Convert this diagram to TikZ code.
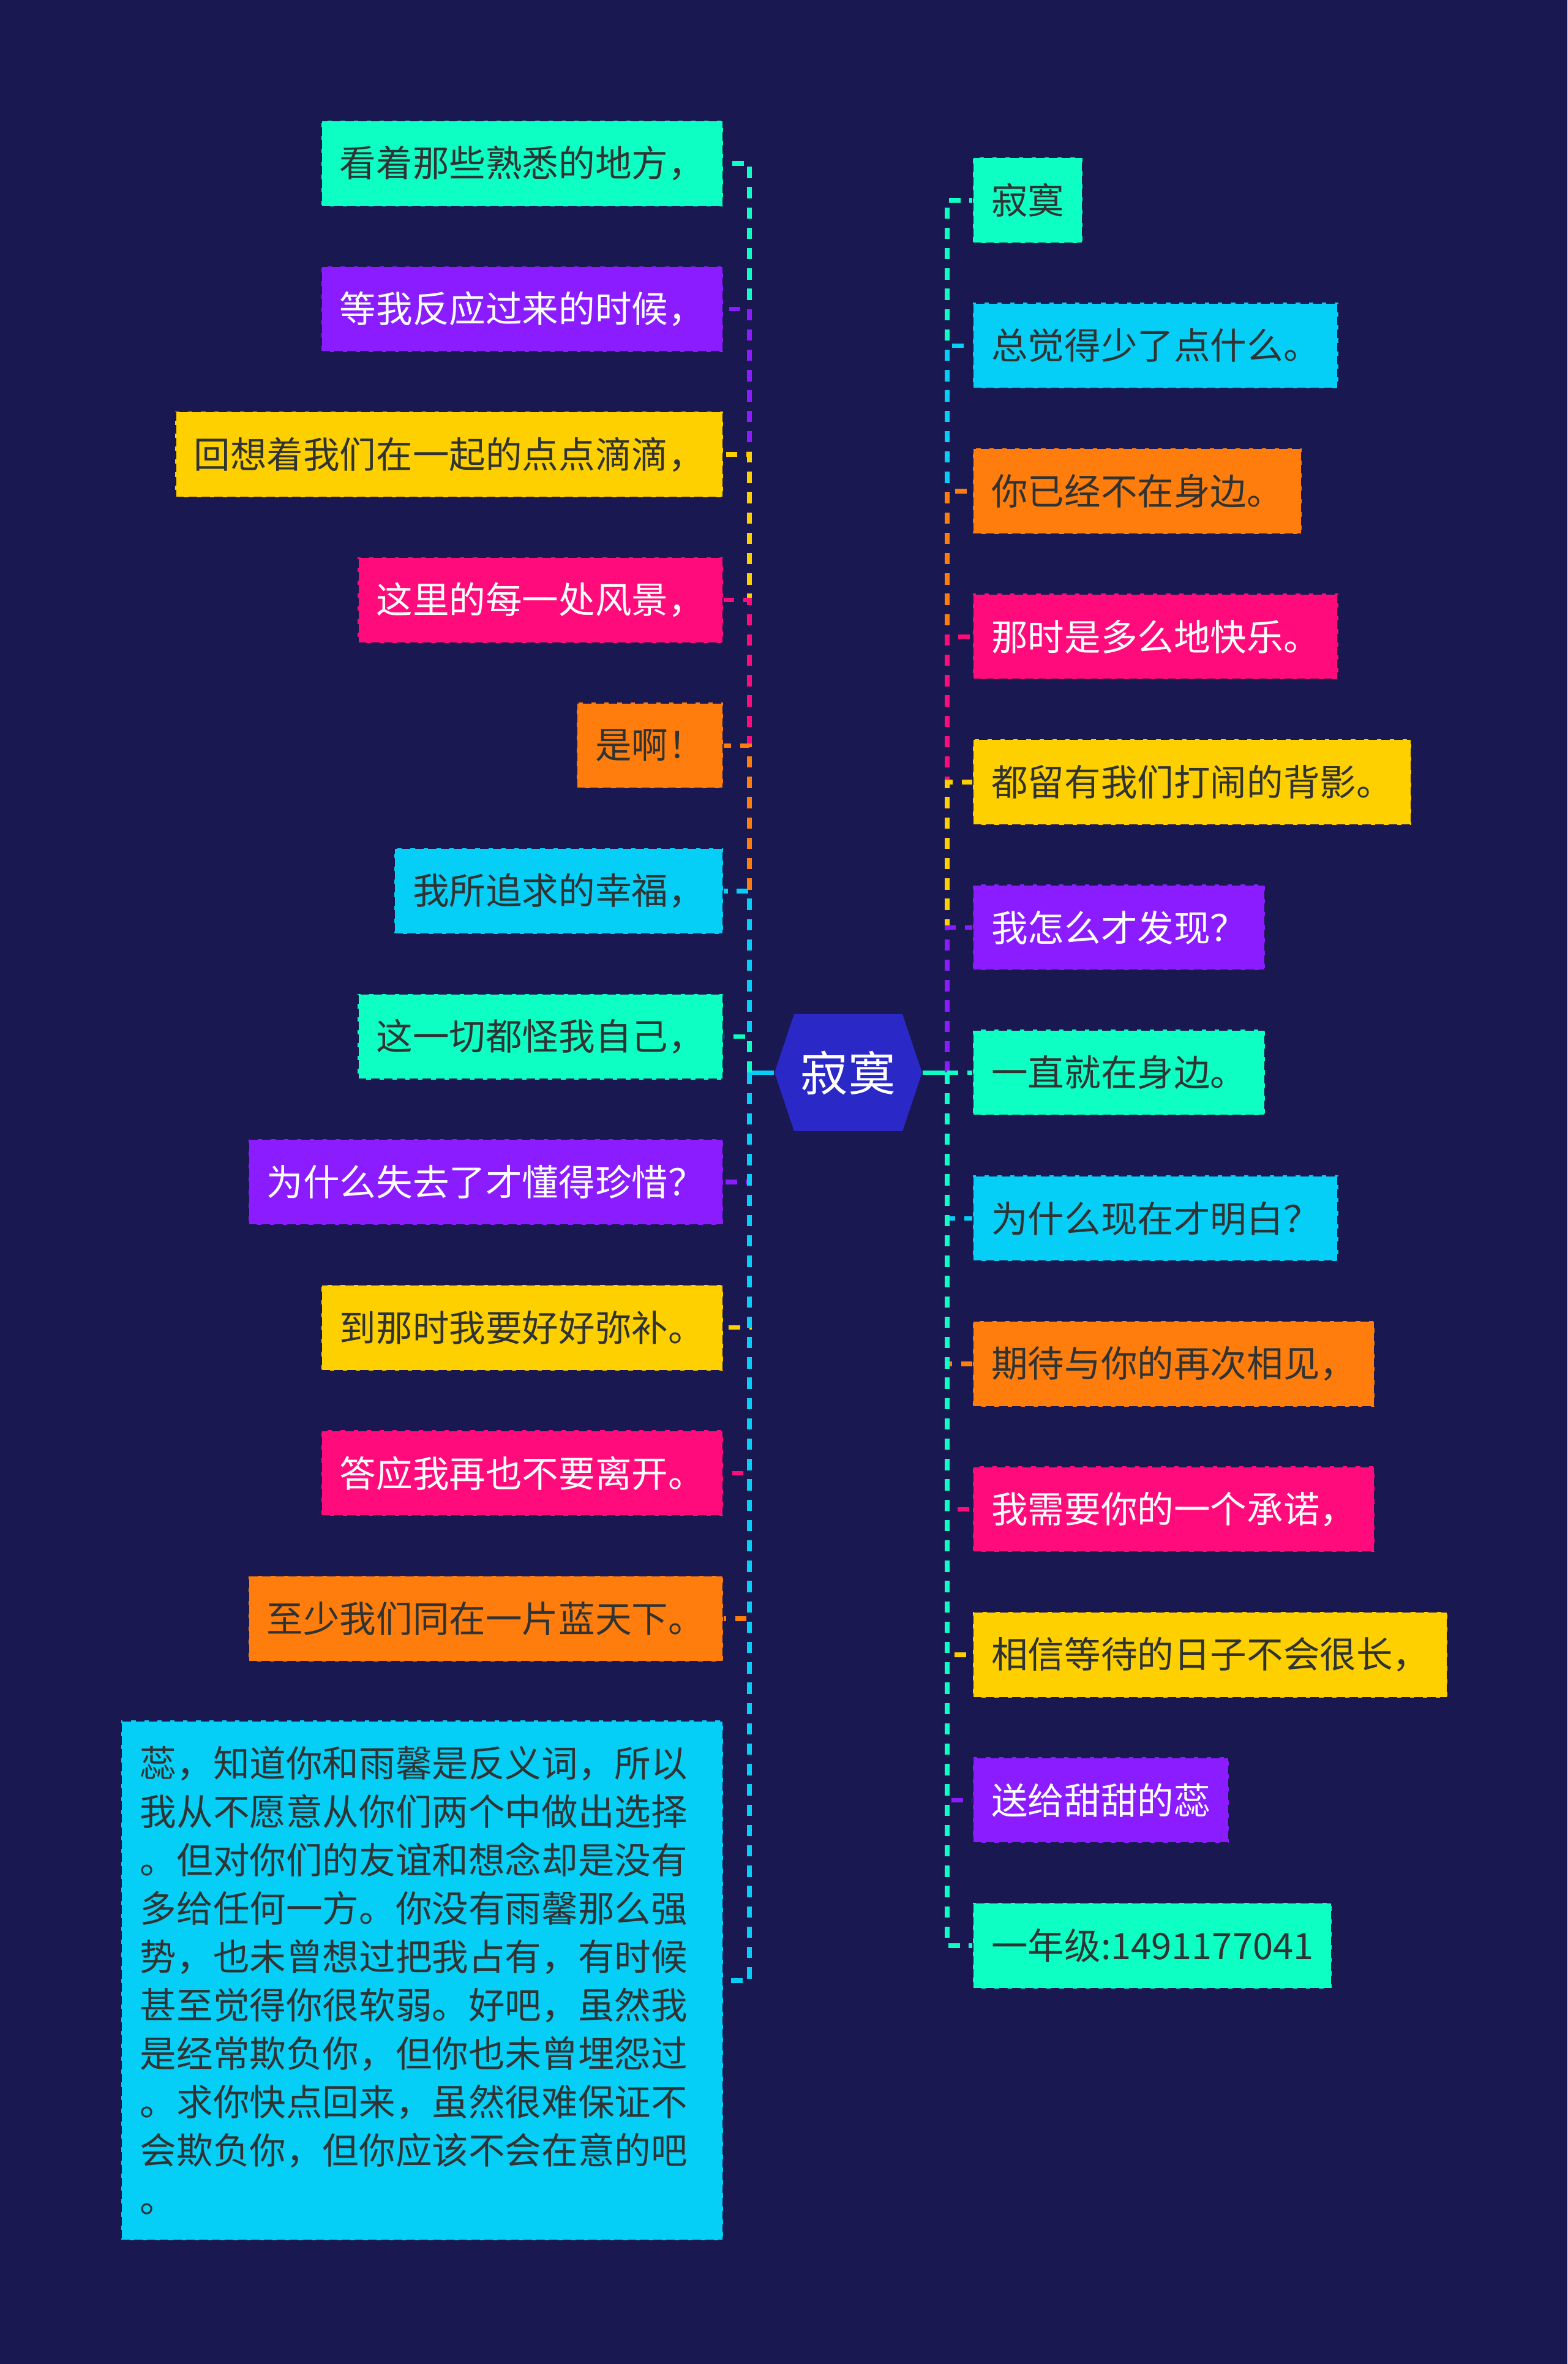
\documentclass[tikz,border=0pt]{standalone}
\usepackage{fontspec}
\usepackage{tikz}
\usetikzlibrary{positioning,calc}
\newfontfamily\cjk{Noto Sans CJK SC}
\definecolor{bg}{HTML}{1A1850}
\definecolor{hx}{HTML}{2A28C6}
\definecolor{tq}{HTML}{0DFFC4}
\definecolor{pu}{HTML}{8A1CFF}
\definecolor{ye}{HTML}{FFD000}
\definecolor{pk}{HTML}{FF0B7B}
\definecolor{og}{HTML}{FF7D0C}
\definecolor{cy}{HTML}{05CFF6}
\definecolor{ink}{HTML}{2F3333}
\tikzset{
 leaf/.style={fill=#1, draw=bg, line width=.6pt, dash pattern=on 3.5pt off 1.8pt,
   minimum height=35pt, inner xsep=7.5pt, inner ysep=0pt, text=ink,
   font=\cjk\fontsize{14.9}{19.75}\selectfont},
 lt/.style={leaf=#1, anchor=east},
 rt/.style={leaf=#1, anchor=west},
 wt/.style={text=white},
 wire/.style={draw=#1, line width=1.85pt, dash pattern=on 4.6pt off 3.7pt},
 stub/.style={draw=#1, line width=1.85pt},
 root/.style={fill=bg, minimum width=60.25pt, minimum height=47.75pt, inner sep=0pt,
   text=white, font=\cjk\fontsize{19.4}{22}\selectfont,
   path picture={\fill[hx] (path picture bounding box.west)
     -- ([xshift=8pt]path picture bounding box.north west)
     -- ([xshift=-8pt]path picture bounding box.north east)
     -- (path picture bounding box.east)
     -- ([xshift=-8pt]path picture bounding box.south east)
     -- ([xshift=8pt]path picture bounding box.south west) -- cycle;}}
}

\begin{document}
\begin{tikzpicture}[x=1pt,y=1pt]
 \fill[bg] (0,0) rectangle (640,965);
 \node[root] (root) at (346.375,527.125) {寂寞};
 \coordinate (jl) at (306,527.125);
 \coordinate (jr) at (386.75,527.125);
 % left side
 \node[lt=tq] (l1) at (295.5,898.25) {看着那些熟悉的地方，};
 \node[lt=pu,wt] (l2) at (295.5,838.85) {等我反应过来的时候，};
 \node[lt=ye] (l3) at (295.5,779.45) {回想着我们在一起的点点滴滴，};
 \node[lt=pk,wt] (l4) at (295.5,720.05) {这里的每一处风景，};
 \node[lt=og] (l5) at (295.5,660.65) {是啊！};
 \node[lt=cy] (l6) at (295.5,601.25) {我所追求的幸福，};
 \node[lt=tq] (l7) at (295.5,541.85) {这一切都怪我自己，};
 \node[lt=pu,wt] (l8) at (295.5,482.45) {为什么失去了才懂得珍惜？};
 \node[lt=ye] (l9) at (295.5,423.05) {到那时我要好好弥补。};
 \node[lt=pk,wt] (l10) at (295.5,363.65) {答应我再也不要离开。};
 \node[lt=og] (l11) at (295.5,304.25) {至少我们同在一片蓝天下。};
 \node[lt=cy, text width=230.25pt, align=left, inner xsep=7.75pt,
   minimum height=212.25pt] (l12) at (295.5,156.5)
   {蕊，知道你和雨馨是反义词，所以\\我从不愿意从你们两个中做出选择\\。但对你们的友谊和想念却是没有\\多给任何一方。你没有雨馨那么强\\势，也未曾想过把我占有，有时候\\甚至觉得你很软弱。好吧，虽然我\\是经常欺负你，但你也未曾埋怨过\\。求你快点回来，虽然很难保证不\\会欺负你，但你应该不会在意的吧\\。};
 % right side
 \node[rt=tq] (r1) at (397,883.25) {寂寞};
 \node[rt=cy] (r2) at (397,823.875) {总觉得少了点什么。};
 \node[rt=og] (r3) at (397,764.5) {你已经不在身边。};
 \node[rt=pk,wt] (r4) at (397,705.125) {那时是多么地快乐。};
 \node[rt=ye] (r5) at (397,645.75) {都留有我们打闹的背影。};
 \node[rt=pu,wt] (r6) at (397,586.375) {我怎么才发现？};
 \node[rt=tq] (r7) at (397,527.125) {一直就在身边。};
 \node[rt=cy] (r8) at (397,467.625) {为什么现在才明白？};
 \node[rt=og] (r9) at (397,408.25) {期待与你的再次相见，};
 \node[rt=pk,wt] (r10) at (397,348.875) {我需要你的一个承诺，};
 \node[rt=ye] (r11) at (397,289.5) {相信等待的日子不会很长，};
 \node[rt=pu,wt] (r12) at (397,230.125) {送给甜甜的蕊};
 \node[rt=tq] (r13) at (397,170.75) {一年级:1491177041};
 % connectors
 \draw[stub=cy] (root.west) -- (jl);
 \draw[stub=tq] (root.east) -- (jr);
 \draw[wire=tq] (jl) |- (l1.east);
 \draw[wire=pu] (jl) |- (l2.east);
 \draw[wire=ye] (jl) |- (l3.east);
 \draw[wire=pk] (jl) |- (l4.east);
 \draw[wire=og] (jl) |- (l5.east);
 \draw[wire=cy] (jl) |- (l6.east);
 \draw[wire=tq] (jl) |- (l7.east);
 \draw[wire=pu] (jl) |- (l8.east);
 \draw[wire=ye] (jl) |- (l9.east);
 \draw[wire=pk] (jl) |- (l10.east);
 \draw[wire=og] (jl) |- (l11.east);
 \draw[wire=cy] (jl) |- (l12.east);
 \draw[wire=tq] (jr) |- (r1.west);
 \draw[wire=cy] (jr) |- (r2.west);
 \draw[wire=og] (jr) |- (r3.west);
 \draw[wire=pk] (jr) |- (r4.west);
 \draw[wire=ye] (jr) |- (r5.west);
 \draw[wire=pu] (jr) |- (r6.west);
 \draw[wire=tq] (jr) -- (r7.west);
 \draw[wire=cy] (jr) |- (r8.west);
 \draw[wire=og] (jr) |- (r9.west);
 \draw[wire=pk] (jr) |- (r10.west);
 \draw[wire=ye] (jr) |- (r11.west);
 \draw[wire=pu] (jr) |- (r12.west);
 \draw[wire=tq] (jr) |- (r13.west);
\end{tikzpicture}
\end{document}
